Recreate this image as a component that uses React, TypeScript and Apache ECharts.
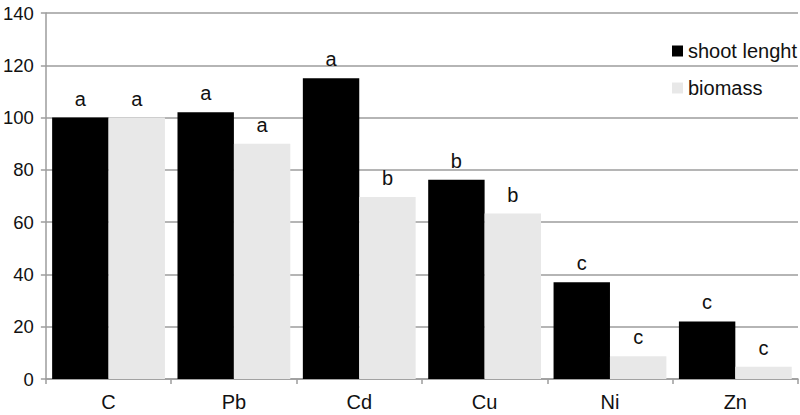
import React, { useEffect, useRef } from 'react'
import * as echarts from 'echarts'

const categories = ['C', 'Pb', 'Cd', 'Cu', 'Ni', 'Zn']
const shootLength = [100, 102, 115, 76.2, 37, 22]
const biomass = [100, 90, 69.6, 63.3, 8.7, 4.7]
const shootLetters = ['a', 'a', 'a', 'b', 'c', 'c']
const biomassLetters = ['a', 'a', 'b', 'b', 'c', 'c']

const FONT = "'Liberation Sans', Helvetica, Arial, sans-serif"
const GRID_COLOR = '#9c9c9c'

export default function App() {
  const chartRef = useRef<HTMLDivElement>(null)

  useEffect(() => {
    document.body.style.margin = '0'
    if (!chartRef.current) return
    const chart = echarts.init(chartRef.current, undefined, { renderer: 'svg' })

    const letterLabel = (letters: string[]) => ({
      show: true,
      position: 'top' as const,
      distance: 9,
      color: '#111',
      fontSize: 20,
      fontFamily: FONT,
      formatter: (p: any) => letters[p.dataIndex]
    })

    const option: echarts.EChartsOption = {
      animation: false,
      backgroundColor: '#fff',
      textStyle: { fontFamily: FONT },
      grid: { left: 45, right: 2, top: 13, bottom: 36, containLabel: false },
      legend: {
        orient: 'vertical',
        left: 667,
        top: 36,
        itemWidth: 11,
        itemHeight: 11,
        itemGap: 17,
        icon: 'rect',
        textStyle: { fontSize: 20, color: '#111', fontFamily: FONT, padding: [0, 0, 0, 0] },
        data: ['shoot lenght', 'biomass']
      },
      xAxis: {
        type: 'category',
        data: categories,
        axisLine: { lineStyle: { color: GRID_COLOR, width: 1.5 } },
        axisTick: { show: true, length: 5, lineStyle: { color: GRID_COLOR, width: 1.5 } },
        axisLabel: { color: '#111', fontSize: 20, margin: 13, fontFamily: FONT }
      },
      yAxis: {
        type: 'value',
        min: 0,
        max: 140,
        interval: 20,
        axisLine: { show: true, lineStyle: { color: GRID_COLOR, width: 1.5 } },
        axisTick: { show: true, length: 5, lineStyle: { color: GRID_COLOR, width: 1.5 } },
        axisLabel: { color: '#111', fontSize: 18.5, margin: 12, fontFamily: FONT },
        splitLine: { lineStyle: { color: GRID_COLOR, width: 1.5 } }
      },
      series: [
        {
          name: 'shoot lenght',
          type: 'bar',
          data: shootLength,
          barGap: '0%',
          barCategoryGap: '10%',
          itemStyle: { color: '#000' },
          label: letterLabel(shootLetters)
        },
        {
          name: 'biomass',
          type: 'bar',
          data: biomass,
          barGap: '0%',
          barCategoryGap: '10%',
          itemStyle: { color: '#e8e8e8' },
          label: letterLabel(biomassLetters)
        }
      ]
    }

    chart.setOption(option)
    return () => chart.dispose()
  }, [])

  return <div ref={chartRef} style={{ width: '800px', height: '415px' }} />
}
